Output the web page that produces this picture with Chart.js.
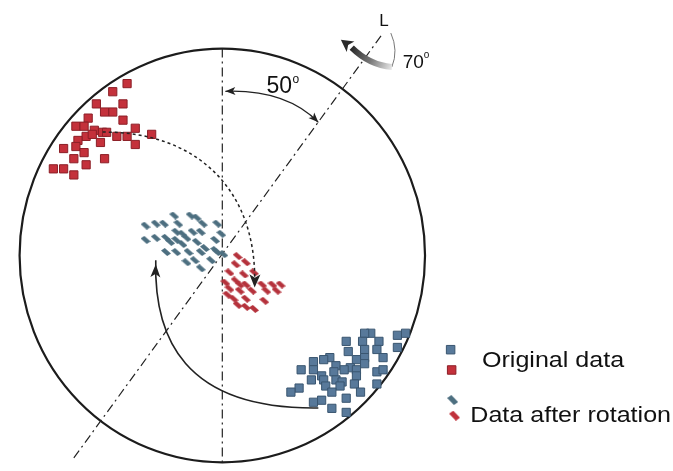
<!DOCTYPE html>
<html>
<head>
<meta charset="utf-8">
<script src="https://cdn.jsdelivr.net/npm/chart.js@4/dist/chart.umd.min.js"></script>
<style>
  html, body { margin: 0; padding: 0; background: #fff; }
  #wrap { width: 673px; height: 471px; position: relative; }
</style>
</head>
<body>
<div id="wrap"><canvas id="chart"></canvas></div>
<script>
// data units: circle of radius ~100 around the origin
const redOriginal = [
  [-47, 88], [-54, 84], [-62, 78], [-54, 74], [-58, 74], [-49, 78], [-66, 71], [-49, 70],
  [-72, 67], [-68, 67], [-43, 66], [-35, 63], [-63, 65], [-59, 64], [-67, 62], [-52, 62],
  [-47, 62], [-43, 58], [-60, 59], [-71, 60], [-78, 56], [-72, 57], [-68, 54], [-73, 51],
  [-58, 51], [-67, 48], [-83, 46], [-78, 46], [-73, 43], [-64, 63], [-57, 64]
];
const blueOriginal = [
  [72, -35], [69, -35], [85, -36], [89, -35], [60, -39], [68, -39], [76, -39], [69, -43],
  [75, -43], [85, -42], [61, -44], [69, -47], [78, -47], [52, -47], [49, -48], [65, -48],
  [44, -49], [55, -51], [62, -52], [69, -50], [38, -53], [44, -53], [48, -56], [54, -54],
  [59, -53], [65, -53], [75, -54], [78, -53], [65, -56], [49, -58], [55, -58], [58, -59],
  [43, -58], [50, -61], [57, -61], [64, -60], [75, -60], [37, -62], [33, -64], [53, -64],
  [67, -64], [60, -67], [48, -68], [44, -69], [53, -72], [60, -74]
];
const blueRotated = [
  [-24, 23], [-16, 23], [-13, 22], [-38, 18], [-33, 19], [-29, 19], [-22, 19], [-10, 19],
  [-3, 19], [-23, 15], [-20, 14], [-15, 15], [-11, 15], [-1, 14], [-38, 11], [-33, 12],
  [-28, 12], [-23, 11], [-18, 12], [-13, 10], [-4, 11], [-26, 10], [-20, 9], [-9, 7],
  [-4, 6], [-28, 5], [-23, 5], [-17, 5], [-11, 5], [-3, 5], [-18, 0], [-14, 1],
  [-6, 1], [-11, -3], [0, 4]
];
const redRotated = [
  [7, 3], [6, -1], [11, 0], [3, -5], [10, -6], [15, -5], [1, -10], [6, -9],
  [3, -13], [8, -11], [11, -11], [19, -11], [24, -11], [28, -11], [8, -14], [14, -14],
  [21, -14], [5, -18], [11, -18], [2, -16], [7, -21], [11, -22], [20, -19], [15, -23],
  [26, -14]
];
const verticalAxis = [[-0.5, 105.3], [-0.5, -99.5]];
const axisL = [[77.0, 111.5], [-73.2, -96.7]];
const legendLabels = ['Original data', 'Data after rotation'];

const toXY = arr => arr.map(p => ({ x: p[0], y: p[1] }));

// small slanted parallelogram used for the rotated points
function slantMark(color, w, h) {
  const c = document.createElement('canvas');
  c.width = w; c.height = h;
  const g = c.getContext('2d');
  g.fillStyle = color;
  g.beginPath();
  g.moveTo(0, h * 0.3);
  g.lineTo(w * 0.38, 0);
  g.lineTo(w, h * 0.7);
  g.lineTo(w * 0.62, h);
  g.closePath();
  g.fill();
  return c;
}

const BLUE_SQ = '#58799a', BLUE_SQ_EDGE = '#3a5670';
const RED_SQ = '#c4313b', RED_SQ_EDGE = '#8c1f27';
const blueSlant = slantMark('#4d6f80', 10, 8);
const redSlant = slantMark('#b5323c', 10, 8);

const FONT = '"Liberation Sans", Arial, sans-serif';

function head(ctx, tip, from, len, wid) {
  const a = Math.atan2(tip[1] - from[1], tip[0] - from[0]);
  ctx.save();
  ctx.translate(tip[0], tip[1]);
  ctx.rotate(a);
  ctx.beginPath();
  ctx.moveTo(0, 0);
  ctx.lineTo(-len, -wid / 2);
  ctx.lineTo(-len * 0.75, 0);
  ctx.lineTo(-len, wid / 2);
  ctx.closePath();
  ctx.fill();
  ctx.restore();
}

function stretchedText(ctx, txt, x, y, size, sx) {
  ctx.save();
  ctx.font = size + 'px ' + FONT;
  ctx.translate(x, y);
  ctx.scale(sx, 1);
  ctx.fillText(txt, 0, 0);
  ctx.restore();
}

const annotations = {
  id: 'annotations',
  beforeDatasetsDraw(chart) {
    const { ctx, scales: { x, y } } = chart;
    const cx = x.getPixelForValue(-0.5), cy = y.getPixelForValue(3.3);
    const rx = x.getPixelForValue(98.5) - cx;
    const ry = cy - y.getPixelForValue(105.2);
    ctx.save();
    ctx.strokeStyle = '#1c1c1c';
    ctx.lineWidth = 2.2;
    ctx.beginPath();
    ctx.ellipse(cx, cy, rx, ry, 0, 0, Math.PI * 2);
    ctx.stroke();
    ctx.restore();
  },
  afterDatasetsDraw(chart) {
    const { ctx, scales: { x, y } } = chart;
    const P = (a, b) => [x.getPixelForValue(a), y.getPixelForValue(b)];
    ctx.save();
    ctx.fillStyle = '#222';
    ctx.strokeStyle = '#222';

    // solid return arrow
    let p0 = P(46.4, -71.8), c1 = P(-19.6, -72.7), c2 = P(-34.0, -36.8), p3 = P(-33.0, -1.0);
    ctx.lineWidth = 1.6;
    ctx.beginPath();
    ctx.moveTo(p0[0], p0[1]);
    ctx.bezierCurveTo(c1[0], c1[1], c2[0], c2[1], p3[0], p3[1] - 4);
    ctx.stroke();
    head(ctx, p3, c2, 13, 10);

    // dotted arrow
    p0 = P(-58.9, 64.1); c1 = P(-14.8, 64.6); c2 = P(16.3, 37.3); p3 = P(15.3, -12.4);
    ctx.lineWidth = 1.5;
    ctx.setLineDash([3, 3]);
    ctx.beginPath();
    ctx.moveTo(p0[0], p0[1]);
    ctx.bezierCurveTo(c1[0], c1[1], c2[0], c2[1], p3[0], p3[1] - 4);
    ctx.stroke();
    ctx.setLineDash([]);
    head(ctx, p3, c2, 13, 11);

    // 50 degree arc
    p0 = P(1.0, 84.2); c1 = P(30.6, 85.2); p3 = P(46.4, 68.9);
    ctx.lineWidth = 1.2;
    ctx.beginPath();
    ctx.moveTo(p0[0], p0[1]);
    ctx.quadraticCurveTo(c1[0], c1[1], p3[0], p3[1]);
    ctx.stroke();
    head(ctx, p0, c1, 10, 8);
    head(ctx, p3, c1, 10, 8);

    // 70 degree rotation arrow
    const t0 = P(81.8, 112.9), tc = P(85.6, 104.3), t1 = P(82.3, 96.2);
    ctx.strokeStyle = '#777';
    ctx.lineWidth = 1;
    ctx.beginPath();
    ctx.moveTo(t0[0], t0[1]);
    ctx.quadraticCurveTo(tc[0], tc[1], t1[0], t1[1]);
    ctx.stroke();
    const kc = P(71.3, 97.1), k1 = P(62.7, 105.7), tip = P(57.4, 109.6);
    const grad = ctx.createLinearGradient(t1[0], t1[1], k1[0], k1[1]);
    grad.addColorStop(0, '#e4e4e4');
    grad.addColorStop(0.5, '#777');
    grad.addColorStop(1, '#2a2a2a');
    ctx.strokeStyle = grad;
    ctx.lineWidth = 6;
    ctx.beginPath();
    ctx.moveTo(t1[0], t1[1]);
    ctx.quadraticCurveTo(kc[0], kc[1], k1[0], k1[1]);
    ctx.stroke();
    ctx.fillStyle = '#2a2a2a';
    head(ctx, tip, k1, 12, 13);

    // labels
    ctx.fillStyle = '#111';
    ctx.textBaseline = 'alphabetic';
    let q = P(21.1, 83.3);
    ctx.font = '23px ' + FONT;
    ctx.fillText('50', q[0], q[1]);
    ctx.font = '12px ' + FONT;
    ctx.fillText('o', q[0] + 26, q[1] - 10);
    q = P(87.6, 95.7);
    ctx.font = '19px ' + FONT;
    ctx.fillText('70', q[0], q[1]);
    ctx.font = '10px ' + FONT;
    ctx.fillText('o', q[0] + 21, q[1] - 10);
    q = P(76.1, 116.3);
    ctx.font = '17px ' + FONT;
    ctx.fillText('L', q[0], q[1]);

    // legend
    ctx.lineWidth = 1;
    ctx.fillStyle = BLUE_SQ; ctx.strokeStyle = BLUE_SQ_EDGE;
    q = P(111.0, -43.1);
    Chart.helpers.drawPoint(ctx, { pointStyle: 'rect', radius: 6, borderWidth: 1 }, q[0], q[1]);
    ctx.fillStyle = RED_SQ; ctx.strokeStyle = RED_SQ_EDGE;
    q = P(111.5, -53.1);
    Chart.helpers.drawPoint(ctx, { pointStyle: 'rect', radius: 6, borderWidth: 1 }, q[0], q[1]);
    const bigBlue = slantMark('#4d6f80', 11, 10), bigRed = slantMark('#c0323c', 11, 10);
    q = P(112.0, -67.9);
    ctx.drawImage(bigBlue, q[0] - 5.5, q[1] - 5);
    q = P(112.9, -75.6);
    ctx.drawImage(bigRed, q[0] - 5.5, q[1] - 5);
    ctx.fillStyle = '#111';
    q = P(126.3, -51.7);
    stretchedText(ctx, legendLabels[0], q[0], q[1], 22, 1.14);
    q = P(120.6, -78.9);
    stretchedText(ctx, legendLabels[1], q[0], q[1], 22, 1.14);
    ctx.restore();
  }
};

const lineStyle = {
  showLine: true, pointRadius: 0, borderColor: '#222', borderWidth: 1.2,
  borderDash: [9, 4, 2, 4], order: 5
};

new Chart(document.getElementById('chart'), {
  type: 'scatter',
  data: {
    datasets: [
      Object.assign({ label: 'vertical', data: toXY(verticalAxis) }, lineStyle),
      Object.assign({ label: 'L', data: toXY(axisL) }, lineStyle),
      {
        label: 'Original red', data: toXY(redOriginal), pointStyle: 'rect', pointRadius: 5.8,
        backgroundColor: RED_SQ, borderColor: RED_SQ_EDGE, borderWidth: 1, order: 1
      },
      {
        label: 'Original blue', data: toXY(blueOriginal), pointStyle: 'rect', pointRadius: 5.8,
        backgroundColor: BLUE_SQ, borderColor: BLUE_SQ_EDGE, borderWidth: 1, order: 1
      },
      {
        label: 'Rotated blue', data: toXY(blueRotated), pointStyle: blueSlant, order: 1
      },
      {
        label: 'Rotated red', data: toXY(redRotated), pointStyle: redSlant, order: 1
      }
    ]
  },
  options: {
    responsive: true,
    maintainAspectRatio: false,
    devicePixelRatio: 1,
    animation: false,
    layout: { padding: 0 },
    plugins: { legend: { display: false }, tooltip: { enabled: false } },
    scales: {
      x: { type: 'linear', min: -105.74, max: 216.27, display: false },
      y: { type: 'linear', min: -99.52, max: 125.84, display: false }
    }
  },
  plugins: [annotations]
});
</script>
</body>
</html>
